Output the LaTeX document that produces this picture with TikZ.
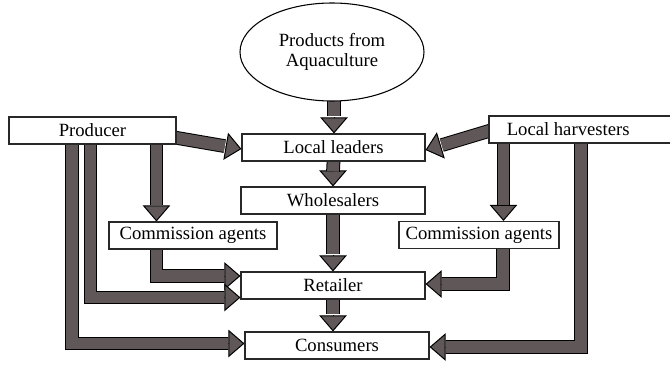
\documentclass[tikz,border=0pt]{standalone}
\usepackage{fontspec}
\setmainfont{Liberation Serif}
\usetikzlibrary{calc,shapes.geometric,arrows.meta,backgrounds}
\definecolor{arrowgray}{RGB}{95,87,88}
\definecolor{boxline}{RGB}{40,40,40}
\def\u{0.75pt}
\pgfdeclarelayer{paper}
\pgfsetlayers{paper,background,main}
\tikzset{
  box/.style={draw=boxline, line width=0.8pt, fill=white, rectangle,
    minimum width=#1*\u, minimum height=27*\u, inner sep=0pt,
    font=\fontsize{14}{15}\selectfont},
  shaft/.style={draw=black, line width=0.75pt, double=arrowgray,
    double distance=8.8pt, line join=miter, line cap=butt},
  blockhead/.style={draw=black, line width=0.75pt, line join=miter,
    -{Triangle[width=20.5pt, length=12pt, fill=arrowgray]}},
}
% block arrow: #1 = shaft path up to the head base, #2 = head base, #3 = tip
\newcommand\blockarrow[3]{%
  \draw[blockhead] #2 -- #3;
  \draw[shaft] #1 -- ($#2!-0.75pt!#3$);
}
\begin{document}
\begin{tikzpicture}[x=0.75pt, y=-0.75pt]
\clip (0,0) rectangle (670,378);
\begin{pgfonlayer}{paper}
\fill[white] (0,0) rectangle (670,378);
\end{pgfonlayer}

% sources and market stages
\node[draw=black, line width=0.8pt, fill=white, ellipse, minimum width=184*\u,
      minimum height=98*\u, inner sep=0pt, align=center,
      font=\fontsize{14}{14.5}\selectfont] (src) at (332,52)
      {Products from\\Aquaculture};
\node[box=167] (prod) at (92.5,130.5) {Producer};
\node[box=186] (lh)   at (582,129.5)  {\hspace*{-2\u}Local harvesters};
\node[box=183] (ll)   at (333.5,147.5) {Local leaders};
\node[box=184] (whs)  at (333,200.5)  {Wholesalers};
\node[box=168] (cal)  at (193,235.5)  {Commission agents};
\node[box=160] (car)  at (479,235)    {Commission agents};
\node[box=184] (ret)  at (333,285.5)  {Retailer};
\node[box=184] (con)  at (337,345.5)  {Consumers};

\begin{pgfonlayer}{background}
% central chain
\coordinate (t1) at ($(ll.north)+(0.5,0)$);
\coordinate (b1) at ($(t1)+(0,-16)$);
\blockarrow{(t1 |- src.center)}{(b1)}{(t1)}

\coordinate (t2) at (whs.north);
\coordinate (b2) at ($(t2)+(0,-14)$);
\blockarrow{(ll.center |- ll.south)}{(b2)}{(t2)}

\coordinate (t3) at (ret.north);
\coordinate (b3) at ($(t3)+(0,-16)$);
\blockarrow{(whs.south)}{(b3)}{(t3)}

\coordinate (t4) at (ret.south |- con.north);
\coordinate (b4) at ($(t4)+(0,-16)$);
\blockarrow{(ret.south)}{(b4)}{(t4)}

% producer and harvesters to local leaders
\coordinate (s5) at ($(prod.east)+(-2,7)$);
\coordinate (t5) at ($(ll.west)+(0,1.5)$);
\coordinate (b5) at ($(t5)!12pt!(s5)$);
\blockarrow{(s5)}{(b5)}{(t5)}

\coordinate (s6) at ($(lh.west)+(2,1)$);
\coordinate (t6) at ($(ll.east)+(0,2.5)$);
\coordinate (b6) at ($(t6)!12pt!(s6)$);
\blockarrow{(s6)}{(b6)}{(t6)}

% producer branch
\coordinate (s7) at ($(prod.south west)+(148,-2)$);
\coordinate (t7) at (s7 |- cal.north);
\coordinate (b7) at ($(t7)+(0,-15)$);
\blockarrow{(s7)}{(b7)}{(t7)}

\coordinate (s8) at ($(cal.south west)+(48,-2)$);
\coordinate (t8) at ($(ret.west)+(0,-9.5)$);
\coordinate (b8) at ($(t8)+(-16,0)$);
\blockarrow{(s8) |- (b8)}{(b8)}{(t8)}

\coordinate (s9) at ($(prod.south west)+(82,-2)$);
\coordinate (t9) at ($(ret.west)+(0,12)$);
\coordinate (b9) at ($(t9)+(-16,0)$);
\blockarrow{(s9) |- (b9)}{(b9)}{(t9)}

\coordinate (s10) at ($(prod.south west)+(63.5,-2)$);
\coordinate (t10) at ($(con.west)+(0,-2)$);
\coordinate (b10) at ($(t10)+(-16,0)$);
\blockarrow{(s10) |- (b10)}{(b10)}{(t10)}

% harvester branch
\coordinate (s11) at ($(lh.south west)+(15,-2)$);
\coordinate (t11) at (s11 |- car.north);
\coordinate (b11) at ($(t11)+(0,-15)$);
\blockarrow{(s11)}{(b11)}{(t11)}

\coordinate (s12) at ($(car.south west)+(104.5,-2)$);
\coordinate (t12) at ($(ret.east)+(0,-1.5)$);
\coordinate (b12) at ($(t12)+(16,0)$);
\blockarrow{(s12) |- (b12)}{(b12)}{(t12)}

\coordinate (s13) at ($(lh.south west)+(92.5,-2)$);
\coordinate (t13) at ($(con.east)+(0,1.5)$);
\coordinate (b13) at ($(t13)+(16,0)$);
\blockarrow{(s13) |- (b13)}{(b13)}{(t13)}
\end{pgfonlayer}
\end{tikzpicture}
\end{document}
